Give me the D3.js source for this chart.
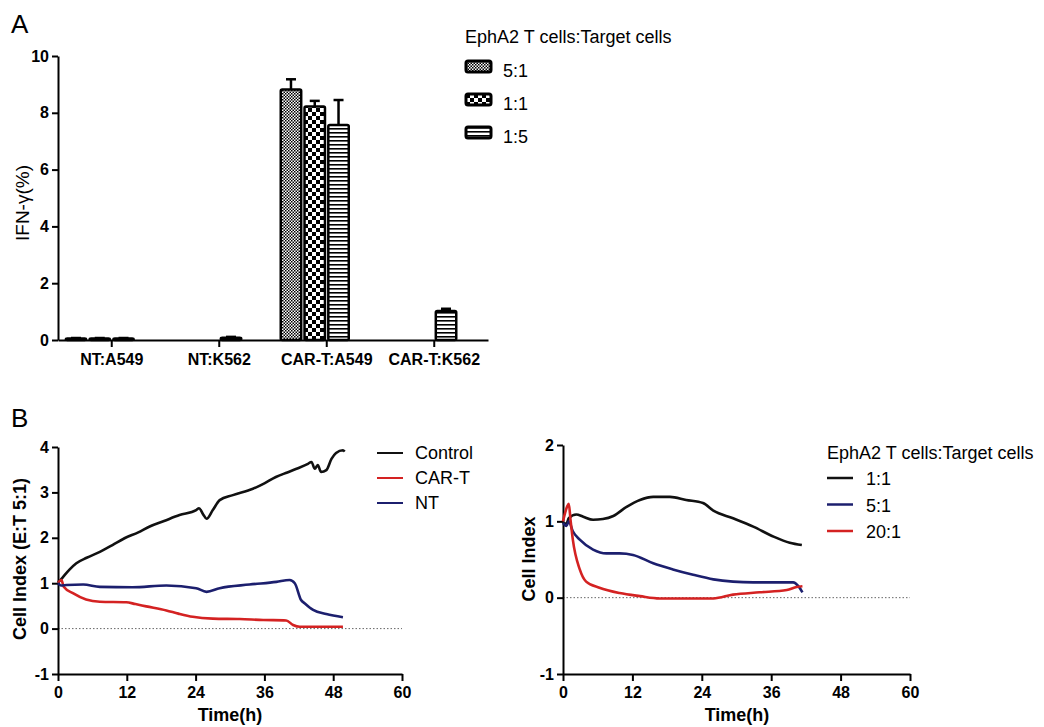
<!DOCTYPE html>
<html>
<head>
<meta charset="utf-8">
<script src="https://cdn.jsdelivr.net/npm/d3@7"></script>
<style>
  body { margin: 0; background: #fff; }
  svg { font-family: "Liberation Sans", Arial, sans-serif; }
  .axis path, .axis line { stroke: #000; stroke-width: 2; }
  .axis text { font-weight: bold; fill: #000; }
</style>
</head>
<body>
<div id="chart"></div>
<script>
// ---- panel A data
var groups = ["NT:A549", "NT:K562", "CAR-T:A549", "CAR-T:K562"]
var ratiosA = ["5:1", "1:1", "1:5"]
var ifnMean = {
  "5:1": [0.05, 0, 8.82, 0],
  "1:1": [0.05, 0, 8.22, 0],
  "1:5": [0.05, 0.08, 7.57, 1.02]
}
var ifnErr = {
  "5:1": [0.02, 0, 0.36, 0],
  "1:1": [0.02, 0, 0.2, 0],
  "1:5": [0.02, 0.03, 0.88, 0.08]
}
var yTicksA = [0, 2, 4, 6, 8, 10]

// ---- panel B left data [time h, cell index]
var control = [[0,1.02],[0.5,1.08],[0.9,1.14],[2,1.3],[3.2,1.44],[5,1.56],[7.3,1.69],[9.5,1.84],[11.6,1.99],[14,2.12],[16,2.25],[18.5,2.37],[21.2,2.5],[24.1,2.61],[24.6,2.65],[25.3,2.52],[25.9,2.42],[27,2.61],[28.2,2.83],[30.5,2.94],[34,3.08],[36,3.2],[38,3.34],[40,3.44],[41.6,3.52],[43.6,3.63],[44.2,3.67],[44.8,3.52],[45.3,3.6],[45.9,3.45],[46.8,3.49],[47.7,3.74],[48.5,3.87],[49.7,3.93],[50,3.9]]
var cart = [[0,1.01],[0.6,1.07],[1,0.92],[2.6,0.78],[4.9,0.64],[7.3,0.59],[11.9,0.58],[13.5,0.54],[15.4,0.49],[18.9,0.4],[21,0.33],[23.5,0.26],[27,0.22],[31.7,0.21],[35.8,0.19],[39.8,0.18],[41,0.08],[42.2,0.04],[49.7,0.04]]
var nt = [[0,1.0],[0.5,0.95],[1.5,0.96],[4.4,0.97],[7.3,0.92],[13,0.91],[18.9,0.95],[24.1,0.89],[25.9,0.81],[28.2,0.89],[33.4,0.97],[38.1,1.03],[40.4,1.07],[41.3,1.0],[42.4,0.63],[43,0.56],[44.5,0.41],[46.8,0.32],[49.7,0.25]]

// ---- panel B right data
var r1to1 = [[0,0.98],[0.6,0.97],[1,1.04],[2.3,1.09],[3.5,1.06],[5.2,1.02],[6.9,1.03],[8.7,1.07],[11,1.19],[13.3,1.28],[15.6,1.32],[18.5,1.32],[21.3,1.28],[24.2,1.24],[26,1.14],[29.4,1.04],[32.9,0.93],[36.4,0.8],[39.2,0.72],[41.3,0.69]]
var r5to1 = [[0,0.98],[0.6,0.94],[1,1.0],[1.7,0.87],[2.9,0.76],[5.2,0.63],[7.5,0.58],[9.8,0.58],[12.1,0.56],[15.6,0.45],[19,0.37],[22.5,0.3],[26,0.24],[29.4,0.21],[32.9,0.2],[37.5,0.2],[39.8,0.2],[40.7,0.15],[41.4,0.07]]
var r20to1 = [[0,1.0],[0.7,1.19],[1,1.23],[1.3,1.02],[1.7,0.76],[2.9,0.37],[4,0.21],[6.3,0.13],[9.8,0.06],[13.3,0.02],[16.7,-0.01],[20.2,-0.01],[26,-0.01],[29.4,0.04],[34,0.07],[38.7,0.1],[40.4,0.14],[41.4,0.15]]

var timeTicks = [0, 12, 24, 36, 48, 60]
var yTicksL = [-1, 0, 1, 2, 3, 4]
var yTicksR = [-1, 0, 1, 2]

var red = "#d42222", navy = "#1c1f6e", black = "#111"

var svg = d3.select('#chart').append('svg')
    .attr('width', 1044).attr('height', 727)

// patterns
var defs = svg.append('defs')
var p1 = defs.append('pattern').attr('id', 'pat51').attr('patternUnits', 'userSpaceOnUse')
    .attr('width', 3).attr('height', 3)
p1.append('rect').attr('width', 3).attr('height', 3).attr('fill', '#fff')
p1.append('rect').attr('width', 1.5).attr('height', 1.5).attr('fill', '#000')
p1.append('rect').attr('x', 1.5).attr('y', 1.5).attr('width', 1.5).attr('height', 1.5).attr('fill', '#000')
var p2 = defs.append('pattern').attr('id', 'pat11').attr('patternUnits', 'userSpaceOnUse')
    .attr('width', 8).attr('height', 8)
p2.append('rect').attr('width', 8).attr('height', 8).attr('fill', '#fff')
p2.append('rect').attr('width', 4).attr('height', 4).attr('fill', '#000')
p2.append('rect').attr('x', 4).attr('y', 4).attr('width', 4).attr('height', 4).attr('fill', '#000')
var p3 = defs.append('pattern').attr('id', 'pat15').attr('patternUnits', 'userSpaceOnUse')
    .attr('width', 4).attr('height', 4)
p3.append('rect').attr('width', 4).attr('height', 4).attr('fill', '#fff')
p3.append('rect').attr('width', 4).attr('height', 1.6).attr('fill', '#000')
var patOf = {"5:1": "url(#pat51)", "1:1": "url(#pat11)", "1:5": "url(#pat15)"}

// ================= Panel A
svg.append('text').attr('x', 11).attr('y', 33).attr('font-size', 26).text('A')

var xA = d3.scaleBand().domain(groups).range([58, 488])
var x1 = d3.scaleBand().domain(ratiosA).range([-46, 22]).paddingInner(0.14)
var yA = d3.scaleLinear().domain([0, 10]).range([340, 56])

svg.append('g').attr('class', 'axis').attr('transform', 'translate(58,0)')
    .call(d3.axisLeft(yA).tickValues(yTicksA).tickSize(6).tickSizeOuter(0))
    .selectAll('text').attr('font-size', 16)
svg.append('g').attr('class', 'axis').attr('transform', 'translate(0,340)')
    .call(d3.axisBottom(xA).tickSize(7).tickSizeOuter(0))
    .selectAll('text').attr('font-size', 16).attr('dy', '0.95em')

svg.append('text').attr('transform', 'translate(29,203) rotate(-90)')
    .attr('text-anchor', 'middle').attr('font-size', 19).text('IFN-γ(%)')

var barData = []
ratiosA.forEach(function(r) {
  groups.forEach(function(g, i) {
    if (ifnMean[r][i] > 0) barData.push({g: g, r: r, v: ifnMean[r][i], e: ifnErr[r][i]})
  })
})

function barX(d) { return xA(d.g) + xA.bandwidth() / 2 + x1(d.r) }

var bars = svg.append('g').selectAll('g').data(barData).enter().append('g')
bars.append('line')
    .attr('x1', function(d) { return barX(d) + x1.bandwidth() / 2 })
    .attr('x2', function(d) { return barX(d) + x1.bandwidth() / 2 })
    .attr('y1', function(d) { return yA(d.v) })
    .attr('y2', function(d) { return yA(d.v + d.e) })
    .attr('stroke', '#000').attr('stroke-width', 2.5)
bars.append('line')
    .attr('x1', function(d) { return barX(d) + x1.bandwidth() / 2 - 5 })
    .attr('x2', function(d) { return barX(d) + x1.bandwidth() / 2 + 5 })
    .attr('y1', function(d) { return yA(d.v + d.e) })
    .attr('y2', function(d) { return yA(d.v + d.e) })
    .attr('stroke', '#000').attr('stroke-width', 2.5)
bars.append('rect')
    .attr('x', barX)
    .attr('y', function(d) { return yA(d.v) })
    .attr('width', x1.bandwidth())
    .attr('height', function(d) { return yA(0) - yA(d.v) })
    .attr('rx', 1.5)
    .attr('fill', function(d) { return patOf[d.r] })
    .attr('stroke', '#000').attr('stroke-width', 2.5)

// legend A
svg.append('text').attr('x', 465).attr('y', 43).attr('font-size', 18).text('EphA2 T cells:Target cells')
var legA = svg.append('g').selectAll('g').data(ratiosA).enter().append('g')
    .attr('transform', function(d, i) { return 'translate(466,' + (61 + i * 33) + ')' })
legA.append('rect').attr('width', 25).attr('height', 11).attr('rx', 2)
    .attr('fill', function(d) { return patOf[d] }).attr('stroke', '#000').attr('stroke-width', 3)
legA.append('text').attr('x', 37).attr('y', 16).attr('font-size', 18).text(function(d) { return d })

// ================= Panel B helper
var fmt = function(d) { return String(d) }  // plain hyphen for negatives

function linePanel(opt) {
  var x = d3.scaleLinear().domain([0, 60]).range([opt.x0, opt.x1])
  var y = d3.scaleLinear().domain(opt.ydom).range([opt.y0, opt.y1])
  svg.append('line').attr('x1', x(0)).attr('x2', x(60)).attr('y1', y(0)).attr('y2', y(0))
      .attr('stroke', '#666').attr('stroke-width', 1).attr('stroke-dasharray', '1.5,2')
  svg.append('g').attr('class', 'axis').attr('transform', 'translate(' + x(0) + ',0)')
      .call(d3.axisLeft(y).tickValues(opt.yticks).tickFormat(fmt).tickSize(6).tickSizeOuter(0))
      .selectAll('text').attr('font-size', 16)
  svg.append('g').attr('class', 'axis').attr('transform', 'translate(0,' + opt.y0 + ')')
      .call(d3.axisBottom(x).tickValues(timeTicks).tickSize(7).tickSizeOuter(0))
      .selectAll('text').attr('font-size', 16).attr('dy', '0.9em')
  var line = d3.line().x(function(d) { return x(d[0]) }).y(function(d) { return y(d[1]) })
      .curve(d3.curveMonotoneX)
  opt.series.forEach(function(s) {
    svg.append('path').attr('d', line(s.data)).attr('fill', 'none')
        .attr('stroke', s.color).attr('stroke-width', 2.6)
  })
  svg.append('text').attr('x', opt.tx).attr('y', 721)
      .attr('text-anchor', 'middle').attr('font-size', 18).attr('font-weight', 'bold').text('Time(h)')
  svg.append('text').attr('transform', 'translate(' + opt.lx + ',' + opt.ly + ') rotate(-90)')
      .attr('text-anchor', 'middle').attr('font-size', 18).attr('font-weight', 'bold').text(opt.ylabel)
  return {x: x, y: y}
}

svg.append('text').attr('x', 11).attr('y', 427).attr('font-size', 26).text('B')

linePanel({x0: 58, x1: 402, y0: 674, y1: 447, ydom: [-1, 4], yticks: yTicksL,
  series: [{data: control, color: black}, {data: cart, color: red}, {data: nt, color: navy}],
  ylabel: 'Cell Index (E:T 5:1)', lx: 26, ly: 559, tx: 230})

linePanel({x0: 563, x1: 910, y0: 674, y1: 445, ydom: [-1, 2], yticks: yTicksR,
  series: [{data: r1to1, color: black}, {data: r5to1, color: navy}, {data: r20to1, color: red}],
  ylabel: 'Cell Index', lx: 535, ly: 559, tx: 737})

// legends B
var legL = [["Control", black], ["CAR-T", red], ["NT", navy]]
var gl = svg.append('g').selectAll('g').data(legL).enter().append('g')
    .attr('transform', function(d, i) { return 'translate(377,' + (453 + i * 25) + ')' })
gl.append('line').attr('x2', 26).attr('stroke', function(d) { return d[1] }).attr('stroke-width', 2)
gl.append('text').attr('x', 38).attr('y', 6).attr('font-size', 18).text(function(d) { return d[0] })

svg.append('text').attr('x', 827).attr('y', 459).attr('font-size', 18).text('EphA2 T cells:Target cells')
var legR = [["1:1", black], ["5:1", navy], ["20:1", red]]
var gr = svg.append('g').selectAll('g').data(legR).enter().append('g')
    .attr('transform', function(d, i) { return 'translate(827,' + (478 + i * 26.5) + ')' })
gr.append('line').attr('x2', 26).attr('stroke', function(d) { return d[1] }).attr('stroke-width', 2.5)
gr.append('text').attr('x', 39).attr('y', 7).attr('font-size', 18).text(function(d) { return d[0] })
</script>
</body>
</html>
